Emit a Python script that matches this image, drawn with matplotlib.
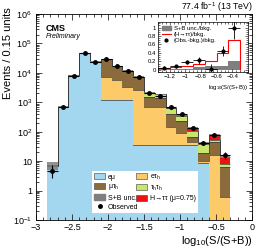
import numpy as np
import matplotlib
matplotlib.use('Agg')
import matplotlib.pyplot as plt
from matplotlib.patches import Patch
from matplotlib.lines import Line2D
from matplotlib.ticker import MultipleLocator, LogLocator, NullFormatter

plt.rcParams['font.family'] = ['Liberation Sans', 'DejaVu Sans']
plt.rcParams['mathtext.fontset'] = 'custom'
plt.rcParams['mathtext.rm'] = 'Liberation Sans'
plt.rcParams['mathtext.it'] = 'Liberation Sans:italic'

# ---- data ----
edges = [-2.85, -2.70, -2.55, -2.40, -2.25, -2.10, -1.95, -1.80, -1.65, -1.50,
         -1.35, -1.20, -1.05, -0.90, -0.75, -0.60, -0.45, -0.30]
centers = [-2.775, -2.625, -2.475, -2.325, -2.175, -2.025, -1.875, -1.725, -1.575,
           -1.425, -1.275, -1.125, -0.975, -0.825, -0.675, -0.525, -0.375]
emu    = [7.0, 680, 8300, 46000, 23500, 1200, 1200, 1150, 35, 35, 35, 35, 35, 35, 8.7, 0, 0]
etau   = [0, 0, 0, 0, 0, 6000, 4500, 2250, 2565, 665, 665, 115, 57, 10, 1.3, 16, 0.6]
mutau  = [0.4, 10, 50, 0, 0, 22300, 11300, 8200, 4700, 800, 750, 250, 145, 23, 9, 30, 5.9]
tautau = [0, 0, 0, 0, 0, 0, 0, 0, 50, 550, 400, 220, 103, 40, 19, 7, 1.5]
signal = [0, 0, 0, 0, 0, 0, 0, 0, 0, 20, 20, 30, 30, 25, 4, 25, 6]
unc_frac = [0.3, 0.05, 0.04, 0.04, 0.04, 0.04, 0.04, 0.04, 0.04, 0.04, 0.04, 0.05, 0.05, 0.06, 0.08, 0.08, 0.1]
observed = [4.6, 700, 8000, 46000, 23000, 29500, 17000, 11700, 7400, 2050, 1600, 690, 390, 135, 42, 78, 16]

# inset data
ins_centers = [-1.275, -1.125, -0.975, -0.825, -0.675, -0.525, -0.375]
ins_edges = [-1.35, -1.20, -1.05, -0.90, -0.75, -0.60, -0.45, -0.30]
ins_unc = [0.02, 0.02, 0.03, 0.06, 0.08, 0.10, 0.20]
ins_sig = [0.04, 0.07, 0.10, 0.14, 0.22, 0.40, 0.70]
ins_obs = [0.05, 0.08, 0.19, 0.23, 0.03, 0.45, 0.98]
ins_err = [0.03, 0.03, 0.05, 0.08, 0.10, 0.12, 0.25]

labels = ['e\u03bc', '\u03bc\u03c4$_\\mathrm{h}$', 'S+B unc.', 'Observed',
          'e\u03c4$_\\mathrm{h}$', '\u03c4$_\\mathrm{h}$\u03c4$_\\mathrm{h}$', 'H\u2192\u03c4\u03c4 (\u03bc=0.75)']

c_emu = '#a3d6ef'
c_mutau = '#8b6b3b'
c_etau = '#fdca6a'
c_tt = '#c8e66e'
c_sig = '#ee1111'
edgec = '#3a3a3a'

W, H = 256, 248
fig = plt.figure(figsize=(W / 100, H / 100), dpi=100)
ax = fig.add_axes([36 / W, 1 - 220 / H, 216 / W, 206 / H])

e = np.array(edges)
layers = [(emu, c_emu), (etau, c_etau), (mutau, c_mutau), (tautau, c_tt), (signal, c_sig)]
base = np.zeros(len(centers))
for vals, col in layers:
    v = np.array(vals, dtype=float)
    top = base + v
    lo = np.where(base > 0, base, 1e-3)
    ax.stairs(top, e, baseline=lo, fill=True, color=col, linewidth=0)
    ax.stairs(top, e, baseline=None, color=edgec, linewidth=0.5)
    base = top
total = base
uf = np.array(unc_frac)
ax.stairs(total * (1 + uf), e, baseline=total * (1 - uf), fill=True, color='#7f7f7f', alpha=0.85, linewidth=0)

obs = np.array(observed)
yerr_lo = np.sqrt(obs)
yerr_hi = np.sqrt(obs)
yerr_lo[0] = 1.9
yerr_hi[0] = 2.7
ax.errorbar(centers, obs, yerr=[yerr_lo, yerr_hi], xerr=0.075, fmt='o', color='black',
            markersize=2.5, elinewidth=0.8, capsize=0)

ax.set_yscale('log')
ax.set_ylim(0.1, 1e6)
ax.set_xlim(-3, 0)
ax.xaxis.set_minor_locator(MultipleLocator(0.1))
ax.yaxis.set_minor_locator(LogLocator(base=10, subs=np.arange(2, 10), numticks=20))
ax.yaxis.set_minor_formatter(NullFormatter())
ax.tick_params(which='both', direction='in', top=True, right=True, labelsize=6.5, width=0.5)
ax.tick_params(which='major', length=4)
ax.tick_params(which='minor', length=2)
ax.tick_params(axis='x', pad=2.2)
ax.tick_params(axis='y', pad=3)
ax.set_xticks([-3, -2.5, -2, -1.5, -1, -0.5, 0])
ax.set_xticklabels(['\u22123', '\u22122.5', '\u22122', '\u22121.5', '\u22121', '\u22120.5', '0'])
ax.set_yticks([1e-1, 1, 10, 1e2, 1e3, 1e4, 1e5, 1e6])
ax.set_yticklabels(['$10^{-1}$', '1', '10', '$10^{2}$', '$10^{3}$', '$10^{4}$', '$10^{5}$', '$10^{6}$'])
for s in ax.spines.values():
    s.set_linewidth(0.6)

fig.text(3 / W, 1 - 7 / H, 'Events / 0.15 units', rotation=90, ha='left', va='top', fontsize=8)
fig.text(253 / W, 0.5 / H, 'log$_{10}$(S/(S+B))', ha='right', va='bottom', fontsize=8)
fig.text(46 / W, 1 - 31 / H, 'CMS', fontsize=6.5, fontweight='bold', ha='left', va='baseline')
fig.text(46 / W, 1 - 37.5 / H, 'Preliminary', fontsize=5, fontstyle='italic', ha='left', va='baseline')
fig.text(253 / W, 1 - 10 / H, '77.4 fb$^{-1}$ (13 TeV)', fontsize=6.3, ha='right', va='baseline')

handles = [Patch(facecolor=c_emu, edgecolor=edgec, linewidth=0.4),
           Patch(facecolor=c_mutau, edgecolor=edgec, linewidth=0.4),
           Patch(facecolor='#7f7f7f', edgecolor='#7f7f7f'),
           Line2D([], [], marker='o', color='black', markersize=2.5, linestyle='none'),
           Patch(facecolor=c_etau, edgecolor=edgec, linewidth=0.4),
           Patch(facecolor=c_tt, edgecolor=edgec, linewidth=0.4),
           Patch(facecolor=c_sig, edgecolor=edgec, linewidth=0.4)]
leg = ax.legend(handles, labels, ncol=2, fontsize=5, frameon=True, fancybox=False,
                edgecolor='white', framealpha=1, loc='lower left',
                bbox_to_anchor=(92 / W, 1 - 213 / H, 106 / W, 36 / H), bbox_transform=fig.transFigure,
                mode='expand', borderaxespad=0, borderpad=0.3, handlelength=1.6, handleheight=1.0,
                handletextpad=0.4, labelspacing=0.25, columnspacing=0.6)
leg.get_frame().set_linewidth(0)

# ---- inset ----
axi = fig.add_axes([158 / W, 1 - 72 / H, 90 / W, 50 / H])
ie = np.array(ins_edges)
axi.stairs(ins_unc, ie, baseline=0, fill=True, color='#7f7f7f', linewidth=0)
axi.stairs(ins_sig, ie, baseline=0, color='red', linewidth=0.8)
axi.errorbar(ins_centers, ins_obs, yerr=ins_err, xerr=0.075, fmt='o', color='black',
             markersize=2, elinewidth=0.6, capsize=0)
axi.set_xlim(-1.35, -0.2)
axi.set_ylim(-0.05, 1.13)
axi.set_xticks([-1.2, -1.0, -0.8, -0.6, -0.4])
axi.set_xticklabels(['\u22121.2', '\u22121', '\u22120.8', '\u22120.6', '\u22120.4'])
axi.set_yticks([0, 0.2, 0.4, 0.6, 0.8, 1.0])
axi.set_yticklabels(['0', '0.2', '0.4', '0.6', '0.8', '1'])
axi.xaxis.set_minor_locator(MultipleLocator(0.05))
axi.yaxis.set_minor_locator(MultipleLocator(0.05))
axi.tick_params(which='both', direction='in', top=True, right=True, labelsize=4.3, width=0.4, pad=1.5)
axi.tick_params(which='major', length=2.5)
axi.tick_params(which='minor', length=1.2)
for s in axi.spines.values():
    s.set_linewidth(0.5)
fig.text(248 / W, 1 - 92 / H, 'log$_{10}$(S/(S+B))', ha='right', va='bottom', fontsize=4.3)
ih = [Patch(facecolor='#7f7f7f', edgecolor='#7f7f7f'),
      Line2D([], [], color='red', linewidth=0.8),
      Line2D([], [], marker='o', color='black', markersize=2, linestyle='none')]
il = axi.legend(ih, ['S+B unc./bkg.', '(H\u2192\u03c4\u03c4)/bkg.', '(Obs.-bkg.)/bkg.'],
                loc='upper left', fontsize=4.3, frameon=False, borderaxespad=0.2,
                handlelength=1.6, handletextpad=0.4, labelspacing=0.15)

fig.savefig('out.png', dpi=100)
